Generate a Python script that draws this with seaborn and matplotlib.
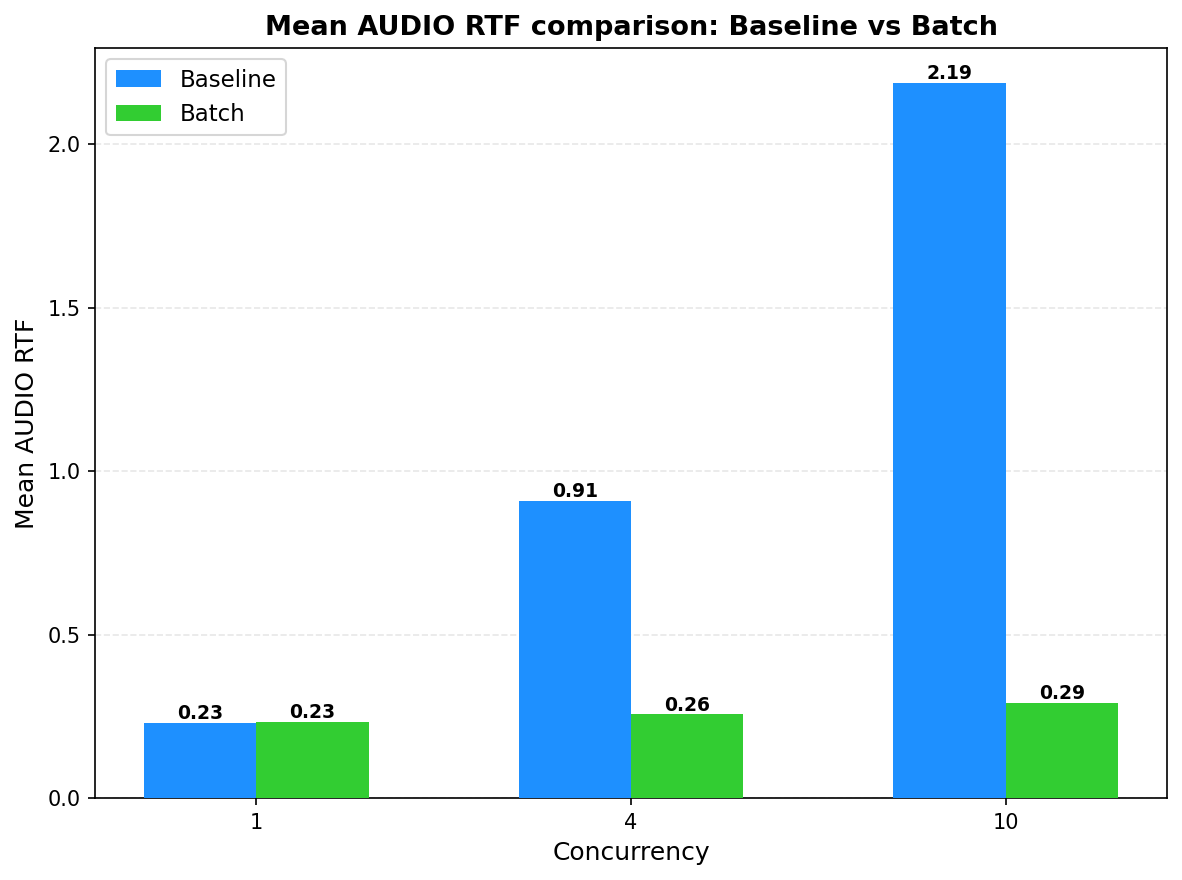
import matplotlib
matplotlib.use("Agg")
import matplotlib.pyplot as plt
import seaborn as sns
import pandas as pd

concurrency = ["1", "4", "10"]
baseline = [0.229, 0.908, 2.187]
batch = [0.232, 0.2555, 0.291]
series = ["Baseline", "Batch"]
colors = {"Baseline": "#1E90FF", "Batch": "#32CD32"}

df = pd.DataFrame({
    "Concurrency": concurrency * 2,
    "RTF": baseline + batch,
    "Mode": ["Baseline"] * 3 + ["Batch"] * 3,
})

fig, ax = plt.subplots(figsize=(7.88, 5.867), dpi=150)
sns.barplot(data=df, x="Concurrency", y="RTF", hue="Mode", order=concurrency,
            hue_order=series, palette=colors, width=0.6, saturation=1,
            edgecolor="none", linewidth=0, ax=ax, zorder=3)

for cont in ax.containers:
    ax.bar_label(cont, fmt="%.2f", fontsize=9, fontweight="bold", padding=0)

ax.set_xlim(-0.43, 2.43)
ax.set_ylim(0, 2.295)
ax.set_yticks([0, 0.5, 1.0, 1.5, 2.0])
ax.grid(axis="y", linestyle="--", alpha=0.3, zorder=0)
ax.set_axisbelow(True)
ax.set_xlabel("Concurrency", fontsize=12)
ax.set_ylabel("Mean AUDIO RTF", fontsize=12)
ax.set_title("Mean AUDIO RTF comparison: Baseline vs Batch", fontsize=13, fontweight="bold")
ax.legend(loc="upper left", fontsize=11, title=None)
fig.subplots_adjust(left=0.0804, right=0.9873, top=0.9455, bottom=0.0932)
fig.savefig("out.png", dpi=150)
